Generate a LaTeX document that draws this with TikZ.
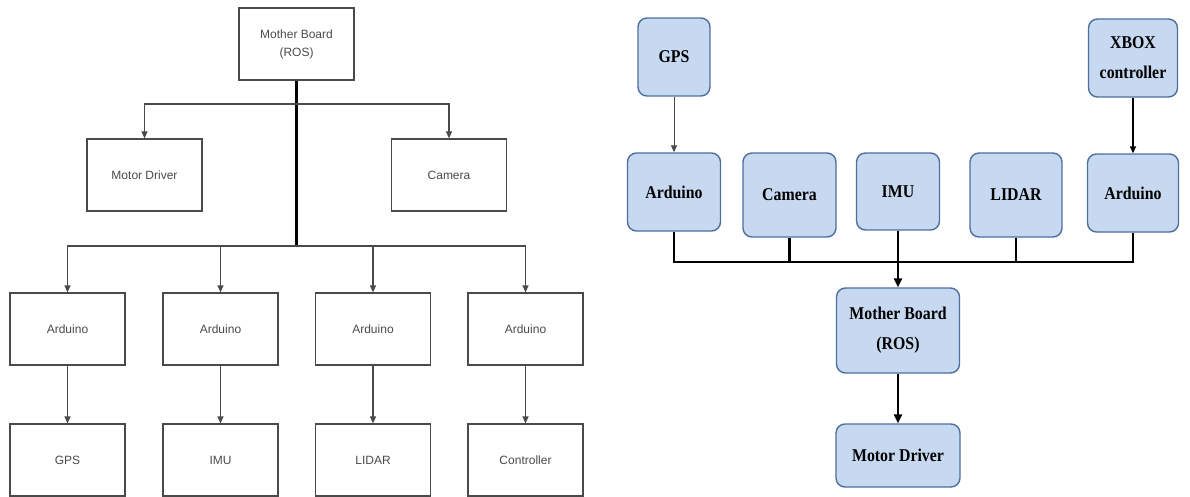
\documentclass[tikz,border=0pt]{standalone}
\usepackage{fontspec}
\usepackage{tikz}
\usetikzlibrary{arrows.meta}
\newfontfamily\lfont{Liberation Sans}
\newfontfamily\rfont[FakeStretch=0.88]{Liberation Serif}
\definecolor{boxblue}{HTML}{C6D9F1}
\definecolor{boxedge}{HTML}{4F6E9E}
\definecolor{linegray}{HTML}{4A4A4A}
\tikzset{
  plain/.style={draw=linegray, line width=1.2pt, minimum width=115pt, minimum height=72pt, inner sep=0pt, font=\lfont\fontsize{12}{18}\selectfont, text=linegray, align=center},
  soft/.style={draw=boxedge, fill=boxblue, line width=1.4pt, rounded corners=9pt, inner sep=0pt, font=\rfont\bfseries\fontsize{18}{30}\selectfont, align=center},
  link/.style={draw=linegray, line width=1.2pt, -{Triangle[length=7pt,width=6pt]}},
  trunk/.style={line width=2.2pt},
  bus/.style={line width=2.6pt},
  busarrow/.style={line width=2.6pt, -{Triangle[length=9pt,width=8pt]}},
}

\begin{document}
\begin{tikzpicture}[x=1pt,y=-1pt]
\useasboundingbox (0,0) rectangle (1190,497);
\node[plain] (l0) at (296.5,44) {Mother Board\\(ROS)};
\node[plain] (l1) at (144.5,175) {Motor Driver};
\node[plain] (l2) at (449,175) {Camera};
\node[plain] (l3) at (67.5,329) {Arduino};
\node[plain] (l4) at (220.5,329) {Arduino};
\node[plain] (l5) at (373,329) {Arduino};
\node[plain] (l6) at (525.5,329) {Arduino};
\node[plain] (l7) at (67.5,460) {GPS};
\node[plain] (l8) at (220.5,460) {IMU};
\node[plain] (l9) at (373,460) {LIDAR};
\node[plain] (l10) at (525.5,460) {Controller};
\coordinate (l11) at (296.5,104);
\coordinate (l12) at (296.5,246);
\draw[trunk] (l0) -- (l12);
\draw[link] (l11) -| (l1);
\draw[link] (l11) -| (l2);
\draw[link] (l12) -| (l3);
\draw[link] (l12) -| (l4);
\draw[link] (l12) -| (l5);
\draw[link] (l12) -| (l6);
\draw[link] (l3) -- (l7);
\draw[link] (l4) -- (l8);
\draw[link] (l5) -- (l9);
\draw[link] (l6) -- (l10);

\node[soft, minimum width=72pt, minimum height=78pt] (r0) at (674,57) {GPS};
\node[soft, minimum width=89pt, minimum height=78pt] (r1) at (1133,58) {XBOX\\controller};
\node[soft, minimum width=93pt, minimum height=78pt] (r2) at (674,192) {Arduino};
\node[soft, minimum width=93pt, minimum height=84pt] (r3) at (789.5,195) {Camera};
\node[soft, minimum width=83pt, minimum height=77pt] (r4) at (898,191.5) {IMU};
\node[soft, minimum width=92pt, minimum height=84pt] (r5) at (1016,195) {LIDAR};
\node[soft, minimum width=91pt, minimum height=78pt] (r6) at (1133,193) {Arduino};
\node[soft, minimum width=123pt, minimum height=85pt] (r7) at (898,330.5) {Mother Board\\(ROS)};
\node[soft, minimum width=124pt, minimum height=63pt] (r8) at (898,455.5) {Motor Driver};
\coordinate (r9) at (898,262);
\draw[link, line width=1pt] (r0) -- (r2);
\draw[link, draw=black, line width=1.5pt] (r1) -- (r6);
\draw[bus] (r2) |- (r9) -| (r6);
\draw[bus] (r3) -- (r3 |- r9);
\draw[bus] (r5) -- (r5 |- r9);
\draw[bus] (r4) -- (r9);
\draw[busarrow] (r9) -- (r7);
\draw[busarrow] (r7) -- (r8);
\end{tikzpicture}
\end{document}
